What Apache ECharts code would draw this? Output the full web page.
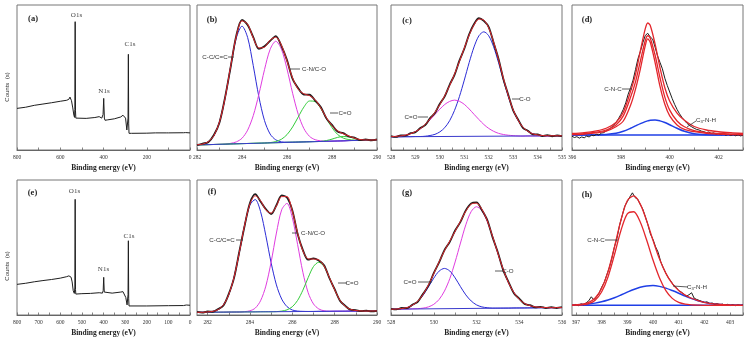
<!DOCTYPE html>
<html>
<head>
<meta charset="utf-8">
<script src="https://cdn.jsdelivr.net/npm/echarts@6/dist/echarts.min.js"></script>
<style>
  html, body { margin: 0; padding: 0; background: #fff; }
  #chart { width: 749px; height: 346px; }
</style>
</head>
<body>
<div id="chart"></div>
<script>
// values; intensities are % of each panel's height

// (a) survey, sample 1
const aBE = [800,760,720,680,640,600,570,560,555,548,542,537,534,532.5,531,529.5,528,520,480,440,420,408,402,399,396,393,380,350,347,344,320,310,305,298,292,288,286.5,285,283.5,282,270,200,160,156,152,110,105,100,30,25,20,0]
const aCounts = [28.7,29.5,30.8,31.7,32.6,33.6,34.3,35.0,36.5,34.0,29.0,24.0,22.5,28,88.5,27,22.0,21.5,21.8,22.4,23.0,22.0,24.5,35.6,22.0,20.5,20.8,21.5,22.8,21.4,22.8,24.0,24.8,22.0,13.8,12.5,22,66.0,18,11.5,11.5,11.6,11.8,12.8,11.7,11.8,12.6,11.8,11.9,12.9,12.0,11.8]

// (e) survey, sample 2
const eBE = [800,760,720,680,640,600,570,560,555,550,545,540,535,532.5,531,529.5,528,500,460,420,405,401.5,399,396.5,395,360,320,310,303,297,291,288,286.5,285,283.5,282,200,100,30,22,17,0]
const eCounts = [22.7,23.5,24.6,25.5,26.3,27.3,28.4,29.0,29.8,28.0,24.5,18.0,16.0,20,85.7,19,15.5,15.8,16.0,16.5,16.2,18,27.9,17,15.6,16.2,17.0,17.3,17.0,13.0,7.5,6.7,15,55.0,12,6.7,6.7,6.9,7.0,8.0,7.4,7.2]

// (b) C1s, sample 1
const bX = [282,282.25,282.5,282.75,283,283.25,283.5,283.75,284,284.25,284.5,284.75,285,285.25,285.5,285.75,286,286.25,286.5,286.75,287,287.25,287.5,287.75,288,288.25,288.5,288.75,289,289.25,289.5,289.75,290]
const bRaw = [3.3,4.4,5.4,10.3,19.0,36.5,57.6,79.2,89.8,86.2,77.9,69.8,71.5,75.2,78.6,71.8,62.0,49.0,42.5,38.2,38.1,34.1,29.6,21.8,17.3,12.7,11.6,9.3,8.6,6.8,7.3,6.6,7.3]
const bFit = [3.6,4.1,5.7,9.9,19.4,36.0,58.2,78.7,89.1,86.8,77.3,70.4,70.9,75.8,77.8,72.4,61.3,49.6,41.9,38.8,37.5,34.7,29.1,22.3,16.8,13.2,11.2,9.7,8.2,7.2,6.9,6.9,7.0]
const bCC = [3.6,4.1,5.7,9.9,19.4,36.0,57.8,77.4,85.4,77.6,58.2,36.7,20.3,11.0,7.0,5.6,5.4,5.4,5.5,5.6,5.7,5.8,5.9,6.0,6.1,6.2,6.3,6.5,6.6,6.7,6.8,6.9,7.0]
const bCN = [3.5,3.6,3.7,3.8,3.9,4.0,4.6,5.6,8.1,13.7,23.7,38.4,55.4,69.4,75.0,69.6,55.9,39.1,24.6,14.8,9.4,7.1,6.3,6.0,6.1,6.2,6.3,6.5,6.6,6.7,6.8,6.9,7.0]
const bCO = [3.5,3.6,3.7,3.8,3.9,4.0,4.2,4.3,4.4,4.5,4.6,4.7,4.8,5.1,5.8,7.4,10.6,15.9,22.8,29.6,33.8,33.4,28.7,21.8,15.4,10.7,8.2,7.2,6.8,6.7,6.8,6.9,7.0]
const bSat = [3.5,3.6,3.7,3.8,3.9,4.0,4.2,4.3,4.4,4.5,4.6,4.7,4.8,4.9,5.0,5.1,5.3,5.4,5.5,5.6,5.7,5.8,5.9,6.5,7.5,8.7,9.3,9.0,8.0,7.2,6.9,6.9,7.0]
const bBaseX = [282, 290]
const bBase = [3.5, 7.0]

// (c) O1s, sample 1
const cX = [528,528.2,528.4,528.6,528.8,529,529.2,529.4,529.6,529.8,530,530.2,530.4,530.6,530.8,531,531.2,531.4,531.6,531.8,532,532.2,532.4,532.6,532.8,533,533.2,533.4,533.6,533.8,534,534.2,534.4,534.6,534.8,535]
const cRaw = [9.6,9.0,10.1,9.9,11.6,12.3,15.2,17.1,22.0,25.5,31.9,37.0,45.0,51.8,61.6,69.8,79.8,86.9,90.9,89.0,84.8,74.0,63.0,49.0,38.1,27.3,21.1,15.2,13.3,10.8,10.8,9.6,10.2,9.5,10.0,9.6]
const cFit = [9.2,9.4,9.7,10.3,11.2,12.7,14.7,17.6,21.5,26.0,31.4,37.5,44.4,52.3,61.0,70.3,79.2,86.3,90.3,89.6,84.2,74.6,62.4,49.5,37.6,27.8,20.6,15.7,12.9,11.2,10.4,10.0,9.8,9.8,9.8,9.8]
const cCO = [9.1,9.1,9.1,9.2,9.2,9.3,9.3,9.5,10.0,10.8,12.5,15.4,20.2,27.3,36.8,48.2,60.3,71.1,78.8,81.5,78.8,71.2,60.4,48.4,37.0,27.5,20.5,15.7,12.9,11.2,10.4,10.0,9.8,9.8,9.8,9.8]
const cCdO = [9.2,9.4,9.7,10.3,11.2,12.6,14.6,17.3,20.8,24.5,28.2,31.4,33.5,34.4,33.6,31.5,28.3,24.6,21.0,17.6,14.9,12.9,11.5,10.7,10.2,9.9,9.7,9.6,9.7,9.7,9.7,9.7,9.7,9.8,9.8,9.8]
const cBaseX = [528, 535]
const cBase = [9.1, 9.8]

// (d) N1s, sample 1
const dRawX = [396.0,396.1,396.2,396.3,396.4,396.5,396.6,396.7,396.8,396.9,397.0,397.1,397.2,397.3,397.4,397.5,397.6,397.7,397.8,397.9,398.0,398.1,398.2,398.3,398.4,398.5,398.6,398.7,398.8,398.9,399.0,399.1,399.2,399.3,399.4,399.5,399.6,399.7,399.8,399.9,400.0,400.1,400.2,400.3,400.4,400.5,400.6,400.7,400.8,400.9,401.0,401.1,401.2,401.3,401.4,401.5,401.6,401.7,401.8,401.9,402.0,402.1,402.2,402.3,402.4,402.5,402.6,402.7,402.8,402.9,403.0]
const dRaw = [9.5,8.6,9.2,8.2,9.0,8.4,9.6,9.0,10.2,9.8,10.8,10.3,11.6,12.0,13.2,14.0,15.5,17.0,19.0,21.5,24.5,28.0,32.5,38.5,43.0,48.2,55.5,63.0,68.0,74.0,79.0,80.5,78.0,76.5,71.0,65.0,60.5,56.0,49.5,44.5,40.0,35.5,31.5,28.0,25.0,22.5,20.5,18.5,17.0,16.0,15.0,14.2,13.8,13.0,12.6,12.0,12.4,11.4,11.8,10.9,11.3,10.5,11.0,10.2,10.8,10.0,10.6,9.8,10.4,9.7,10.2]
const dX = [396,396.5,397,397.4,397.8,398.1,398.4,398.6,398.8,399.0,399.1,399.2,399.4,399.6,399.8,400.0,400.3,400.6,401,401.5,402,402.5,403]
const dFit = [11.4,12.0,13.2,15.0,19.0,26.0,40.6,52.2,68.5,83.7,87.6,86.0,73.2,56.9,42.9,33.6,25.5,20.5,16.2,13.8,12.6,11.9,11.4]
const dCNC = [10.8,11.3,12.3,13.8,17.3,23.5,36.5,47.0,61.5,75.5,78.8,77.3,65.5,50.0,36.5,27.5,20.0,16.0,13.3,12.0,11.4,11.0,10.8]
const dCNC2 = [10.6,11.0,11.8,13.0,16.0,20.0,31.0,42.0,56.0,72.0,76.6,74.5,60.5,44.0,31.5,23.5,17.3,14.2,12.6,11.5,11.0,10.7,10.5]
const dNH = [10.3,10.3,10.4,10.7,11.5,12.9,15.0,16.6,18.2,19.6,20.1,20.5,20.7,20.1,19.0,17.4,15.0,12.9,11.2,10.5,10.3,10.3,10.3]
const dBaseX = [396, 403]
const dBase = [10.3, 10.3]

// (f) C1s, sample 2
const fX = [281.5,281.75,282,282.25,282.5,282.75,283,283.25,283.5,283.75,284,284.25,284.5,284.75,285,285.25,285.5,285.75,286,286.25,286.5,286.75,287,287.25,287.5,287.75,288,288.25,288.5,288.75,289,289.25,289.5,289.75,290]
const fRaw = [2.3,1.8,2.6,2.4,4.4,7.1,15.6,27.5,47.0,66.1,82.9,89.5,84.1,78.4,74.8,81.3,88.6,87.0,77.6,60.2,48.1,41.0,42.0,40.3,36.9,27.4,19.1,10.6,6.8,3.9,3.6,2.8,3.2,2.7,3.1]
const fFit = [2.0,2.0,2.3,2.7,4.0,7.5,15.1,28.0,46.4,66.7,82.3,88.3,84.8,77.8,75.5,80.7,87.7,87.7,77.0,60.8,47.5,41.6,41.4,40.9,36.3,27.9,18.6,11.0,6.4,4.2,3.3,3.0,2.9,3.0,3.0]
const fCC = [2.0,2.0,2.3,2.7,4.0,7.6,15.1,28.0,46.4,66.5,81.5,85.5,76.7,58.8,38.7,22.3,11.8,6.2,3.7,2.9,2.7,2.6,2.6,2.7,2.7,2.7,2.8,2.8,2.8,2.9,2.9,2.9,2.9,3.0,3.0]
const fCN = [2.0,2.0,2.1,2.1,2.1,2.1,2.2,2.2,2.2,2.5,3.1,5.1,10.5,21.4,39.2,60.7,78.0,82.7,72.2,52.3,31.6,16.5,8.2,4.5,3.1,2.8,2.8,2.8,2.8,2.9,2.9,2.9,2.9,3.0,3.0]
const fCO = [2.0,2.0,2.1,2.1,2.1,2.1,2.2,2.2,2.2,2.3,2.3,2.3,2.4,2.4,2.4,2.5,2.9,3.8,6.1,10.8,18.4,27.7,35.9,39.1,35.9,27.8,18.6,11.0,6.4,4.2,3.3,3.0,2.9,3.0,3.0]
const fBaseX = [281.5, 290]
const fBase = [2.0, 3.0]

// (g) O1s, sample 2
const gX = [528,528.25,528.5,528.75,529,529.25,529.5,529.75,530,530.25,530.5,530.75,531,531.25,531.5,531.75,532,532.25,532.5,532.75,533,533.25,533.5,533.75,534,534.25,534.5,534.75,535,535.25,535.5,535.75,536]
const gRaw = [4.6,4.1,5.2,5.1,7.6,9.8,15.7,21.7,31.1,38.9,48.1,54.2,62.6,69.0,77.5,82.7,83.4,77.8,70.5,57.7,46.3,33.2,24.4,16.1,12.1,8.1,7.3,5.7,6.0,5.2,5.8,5.2,5.8]
const gFit = [4.3,4.4,4.8,5.5,7.2,10.2,15.2,22.2,30.6,39.4,47.5,54.8,62.0,69.5,76.9,82.1,82.8,78.4,69.9,58.3,45.7,33.8,23.8,16.6,11.6,8.5,6.9,6.0,5.7,5.5,5.4,5.5,5.5]
const gCO = [4.3,4.3,4.4,4.4,4.6,4.7,5.1,6.0,7.9,11.5,17.7,26.9,39.3,53.3,66.8,76.6,80.2,77.3,69.5,58.2,45.7,33.8,23.8,16.6,11.6,8.5,6.9,6.0,5.7,5.5,5.4,5.5,5.5]
const gCdO = [4.3,4.4,4.8,5.5,7.1,10.0,14.6,20.8,27.3,32.5,34.5,32.6,27.5,21.0,14.9,10.4,7.5,6.0,5.4,5.1,5.1,5.1,5.1,5.2,5.2,5.2,5.3,5.3,5.4,5.4,5.4,5.5,5.5]
const gBaseX = [528, 536]
const gBase = [4.3, 5.5]

// (h) N1s, sample 2
const hRawX = [396.9,397.0,397.1,397.2,397.3,397.4,397.5,397.6,397.7,397.8,397.9,398.0,398.1,398.2,398.3,398.4,398.5,398.6,398.7,398.8,398.9,399.0,399.1,399.2,399.3,399.4,399.5,399.6,399.7,399.8,399.9,400.0,400.1,400.2,400.3,400.4,400.5,400.6,400.7,400.8,400.9,401.0,401.1,401.2,401.3,401.4,401.5,401.6,401.7,401.8,401.9,402.0,402.1,402.2,402.3,402.4,402.5,402.6,402.7,402.8,402.9,403.0,403.1,403.2,403.3,403.4,403.5]
const hRaw = [7.0,7.8,6.9,8.3,7.6,9.0,10.5,13.5,11.2,13.4,16.0,20.5,24.0,29.5,35.0,42.0,50.5,57.0,66.5,73.5,80.5,84.0,87.5,90.5,87.0,86.0,82.0,78.5,73.0,67.0,60.0,56.0,50.5,46.5,39.5,35.0,31.0,27.5,25.0,22.0,20.5,18.0,17.0,15.5,14.0,15.0,16.5,12.5,11.5,10.8,10.0,9.2,9.8,8.4,8.9,7.8,8.4,7.5,8.1,7.2,7.9,7.0,7.6,6.9,7.5,7.1,7.4]
const hX = [396.85,397,397.25,397.5,397.75,398,398.25,398.5,398.75,399,399.25,399.5,399.75,400,400.25,400.5,400.75,401,401.25,401.5,401.75,402,402.25,402.5,402.75,403,403.25,403.5]
const hFit = [7.4,7.6,8.0,9.4,12.6,19.6,32.1,50.2,70.0,84.6,88.2,82.3,70.0,55.3,41.6,30.8,23.2,18.2,14.8,12.4,10.7,9.4,8.5,8.0,7.6,7.4,7.3,7.2]
const hCNC = [7.2,7.3,7.5,8.4,11.0,17.0,28.2,44.6,62.4,74.9,76.5,69.0,55.7,40.7,27.6,18.1,12.3,9.3,8.0,7.5,7.3,7.2,7.2,7.2,7.2,7.2,7.2,7.2]
const hNH = [7.4,7.5,7.7,8.2,8.8,9.8,11.1,12.8,14.8,16.9,18.9,20.5,21.5,21.8,21.2,19.9,18.1,16.1,14.0,12.1,10.6,9.4,8.5,8.0,7.6,7.4,7.3,7.2]
const hBaseX = [396.85, 403.5]
const hBase = [7.2, 7.2]

// tick labels and tick marks on each x axis
const aTickLabels = [800,600,400,200,0]
const aTicks = [800,700,600,500,400,300,200,100,0]
const eTickLabels = [800,700,600,500,400,300,200,100,0]
const eTicks = [800,750,700,650,600,550,500,450,400,350,300,250,200,150,100,50,0]
const bTickLabels = [282,284,286,288,290]
const bTicks = [282,283,284,285,286,287,288,289,290]
const cTickLabels = [528,529,530,531,532,533,534,535]
const cTicks = [528,528.5,529,529.5,530,530.5,531,531.5,532,532.5,533,533.5,534,534.5,535]
const dTickLabels = [396,398,400,402]
const dTicks = [396,397,398,399,400,401,402,403]
const fTickLabels = [282,284,286,288,290]
const fTicks = [282,283,284,285,286,287,288,289,290]
const gTickLabels = [528,530,532,534,536]
const gTicks = [528,529,530,531,532,533,534,535,536]
const hTickLabels = [397,398,399,400,401,402,403]
const hTicks = [397,397.5,398,398.5,399,399.5,400,400.5,401,401.5,402,402.5,403,403.5]

const C = {
  raw: '#1e1e1e',
  fit: '#e3262c',
  blue: '#2b2bd6',
  pink: '#e03ce0',
  green: '#33cc3a',
  base: '#3a3acc'
}

const chart = echarts.init(document.getElementById('chart'), null, {renderer: 'canvas'})

const boxes = [
  {left: 17, top: 5, width: 173, height: 145},
  {left: 197, top: 5, width: 180, height: 145},
  {left: 391, top: 5, width: 171, height: 145},
  {left: 572, top: 5, width: 171, height: 145},
  {left: 17, top: 180, width: 173, height: 135},
  {left: 197, top: 180, width: 180, height: 135},
  {left: 391, top: 180, width: 171, height: 135},
  {left: 572, top: 180, width: 171, height: 135}
]

function xAxis (i, min, max, labels, ticks, inverse) {
  return {
    gridIndex: i,
    type: 'value',
    min: min,
    max: max,
    inverse: !!inverse,
    name: 'Binding energy (eV)',
    nameLocation: 'middle',
    nameGap: 14,
    nameTextStyle: {fontFamily: 'Liberation Serif', fontWeight: 'bold', fontSize: 7.5, color: '#222'},
    axisLine: {show: true, lineStyle: {color: '#666', width: 1}},
    axisTick: {show: true, inside: true, length: 2.5, customValues: ticks, lineStyle: {color: '#666', width: 0.8}},
    axisLabel: {customValues: labels, fontSize: 5.5, color: '#333', margin: 5, fontFamily: 'Liberation Serif'},
    splitLine: {show: false}
  }
}

function line (i, xs, ys, color, width, smooth) {
  return {
    type: 'line',
    xAxisIndex: i,
    yAxisIndex: i,
    data: xs.map((x, k) => [x, ys[k]]),
    symbol: 'none',
    smooth: smooth,
    silent: true,
    animation: false,
    lineStyle: {color: color, width: width}
  }
}

const series = [
  // (a)
  line(0, aBE, aCounts, C.raw, 1, false),
  // (b)
  line(1, bX, bCC, C.blue, 1, 0.3),
  line(1, bX, bCN, C.pink, 1, 0.3),
  line(1, bX, bCO, C.green, 1, 0.3),
  line(1, bX, bSat, C.green, 1, 0.3),
  line(1, bBaseX, bBase, C.base, 1, false),
  line(1, bX, bRaw, C.raw, 1.8, 0.3),
  line(1, bX, bFit, C.fit, 1, 0.3),
  // (c)
  line(2, cX, cCO, C.blue, 1, 0.3),
  line(2, cX, cCdO, C.pink, 1, 0.3),
  line(2, cBaseX, cBase, C.base, 1, false),
  line(2, cX, cRaw, C.raw, 1.8, 0.3),
  line(2, cX, cFit, C.fit, 1, 0.3),
  // (d)
  line(3, dBaseX, dBase, '#1f3fe6', 1.5, false),
  line(3, dX, dNH, '#1f3fe6', 1.5, 0.3),
  line(3, dRawX, dRaw, C.raw, 1, false),
  line(3, dX, dCNC2, C.fit, 1.3, 0.3),
  line(3, dX, dCNC, C.fit, 1.3, 0.3),
  line(3, dX, dFit, C.fit, 1.3, 0.3),
  // (e)
  line(4, eBE, eCounts, C.raw, 1, false),
  // (f)
  line(5, fX, fCC, C.blue, 1, 0.3),
  line(5, fX, fCN, C.pink, 1, 0.3),
  line(5, fX, fCO, C.green, 1, 0.3),
  line(5, fBaseX, fBase, C.base, 1, false),
  line(5, fX, fRaw, C.raw, 1.8, 0.3),
  line(5, fX, fFit, C.fit, 1, 0.3),
  // (g)
  line(6, gX, gCO, C.pink, 1, 0.3),
  line(6, gX, gCdO, C.blue, 1, 0.3),
  line(6, gBaseX, gBase, C.base, 1, false),
  line(6, gX, gRaw, C.raw, 1.8, 0.3),
  line(6, gX, gFit, C.fit, 1, 0.3),
  // (h)
  line(7, hBaseX, hBase, '#1f3fe6', 1.5, false),
  line(7, hX, hNH, '#1f3fe6', 1.5, 0.3),
  line(7, hRawX, hRaw, C.raw, 1, false),
  line(7, hX, hCNC, C.fit, 1.3, 0.3),
  line(7, hX, hFit, C.fit, 1.3, 0.3)
]

// annotation text helpers
function txt (x, y, s, size, family, weight, color) {
  return {
    type: 'text', x: x, y: y, silent: true, z: 100,
    style: {text: s, fontSize: size, fontFamily: family, fontWeight: weight || 'normal', fill: color || '#333', align: 'center', verticalAlign: 'middle'}
  }
}
function dash (x1, y1, x2, y2) {
  return {type: 'line', silent: true, z: 100, shape: {x1: x1, y1: y1, x2: x2, y2: y2}, style: {stroke: '#333', lineWidth: 0.8}}
}
function panelTag (x, y, s) {
  return txt(x, y, s, 8.5, 'Liberation Serif', 'bold', '#222')
}
function peakTag (x, y, s) {
  return txt(x, y, s, 7, 'Liberation Serif', 'normal', '#444')
}
function compTag (x, y, s) {
  return txt(x, y, s, 6.2, 'Liberation Sans', 'normal', '#333')
}
function nhTag (x, y) {
  return {
    type: 'text', x: x, y: y, silent: true, z: 100,
    style: {
      text: 'C{s|3}-N-H', fontSize: 6.2, fontFamily: 'Liberation Sans', fill: '#333', align: 'center', verticalAlign: 'middle',
      rich: {s: {fontSize: 4.2, fontFamily: 'Liberation Sans', fill: '#333', padding: [3, 0, 0, 0]}}
    }
  }
}
function countsTag (x, y) {
  return {
    type: 'text', x: x, y: y, rotation: Math.PI / 2, silent: true, z: 100,
    style: {text: 'Counts  (s)', fontSize: 6, fontFamily: 'Liberation Sans', fill: '#333', align: 'center', verticalAlign: 'middle'}
  }
}

const graphic = [
  countsTag(7, 87), countsTag(7, 266),
  panelTag(33, 19, '(a)'), peakTag(76.5, 15, 'O1s'), peakTag(104, 91, 'N1s'), peakTag(130, 44, 'C1s'),
  panelTag(32.5, 193, '(e)'), peakTag(74.5, 191, 'O1s'), peakTag(103.5, 269, 'N1s'), peakTag(129, 236, 'C1s'),

  panelTag(212, 20, '(b)'),
  compTag(215, 57, 'C-C/C=C'), dash(228, 57, 234, 57),
  compTag(314, 69, 'C-N/C-O'), dash(290, 69, 300, 69),
  compTag(345, 113, 'C=O'), dash(330, 113, 338, 113),

  panelTag(407, 21, '(c)'),
  compTag(411, 117, 'C=O'), dash(418, 117, 428, 117),
  compTag(525, 99, 'C-O'), dash(512, 99, 520, 99),

  panelTag(587, 20, '(d)'),
  compTag(613, 89, 'C-N-C'), dash(622, 89, 632, 89),
  nhTag(706, 120), dash(687, 127, 696, 121),

  panelTag(212, 192, '(f)'),
  compTag(222, 240, 'C-C/C=C'), dash(236, 240, 243, 240),
  compTag(313, 233, 'C-N/C-O'), dash(292, 233, 298, 233),
  compTag(352, 283, 'C=O'), dash(338, 283, 347, 283),

  panelTag(407, 193, '(g)'),
  compTag(410, 282, 'C=O'), dash(418, 282, 432, 282),
  compTag(508, 271, 'C-O'), dash(495, 271, 503, 271),

  panelTag(587, 195, '(h)'),
  compTag(596, 240, 'C-N-C'), dash(605, 240, 618, 240),
  nhTag(697, 287), dash(673, 286, 688, 287)
]

chart.setOption({
  animation: false,
  backgroundColor: '#fff',
  grid: boxes.map(b => Object.assign({show: true, borderColor: '#777', borderWidth: 1, containLabel: false}, b)),
  xAxis: [
    xAxis(0, 0, 800, aTickLabels, aTicks, true),
    xAxis(1, 282, 290, bTickLabels, bTicks),
    xAxis(2, 528, 535, cTickLabels, cTicks),
    xAxis(3, 396, 403, dTickLabels, dTicks),
    xAxis(4, 0, 800, eTickLabels, eTicks, true),
    xAxis(5, 281.5, 290, fTickLabels, fTicks),
    xAxis(6, 528, 536, gTickLabels, gTicks),
    xAxis(7, 396.85, 403.5, hTickLabels, hTicks)
  ],
  yAxis: boxes.map((b, i) => ({gridIndex: i, type: 'value', min: 0, max: 100, show: false})),
  series: series,
  graphic: graphic
})
</script>
</body>
</html>
